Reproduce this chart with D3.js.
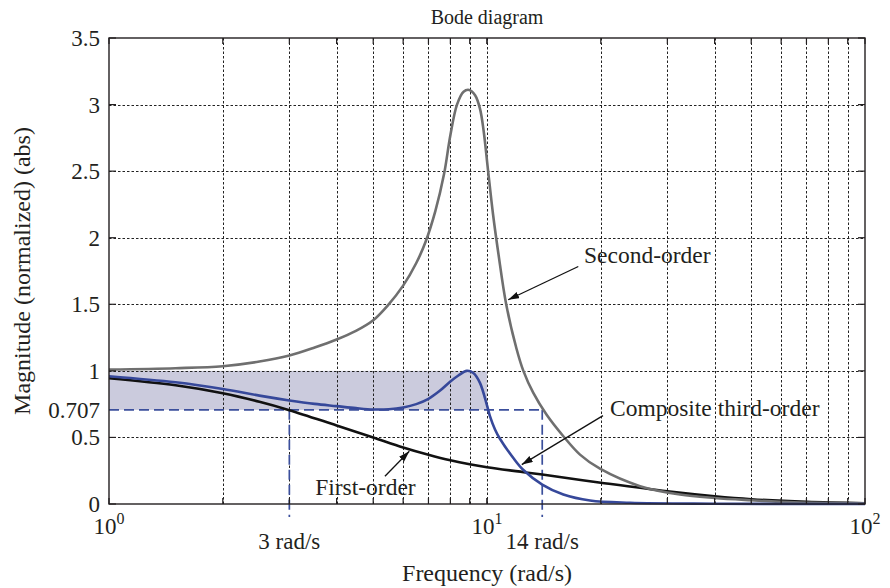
<!DOCTYPE html>
<html>
<head>
<meta charset="utf-8">
<script src="https://cdn.jsdelivr.net/npm/d3@7"></script>
<style>
  body { margin: 0; background: #fff; }
  text { font-family: "Liberation Serif", "Times New Roman", serif; fill: #231f20; }
</style>
</head>
<body>
<svg id="chart" width="890" height="588"></svg>
<script>
// First-order response |G1(jw)|
const firstOrderFreq = [1, 1.5, 2, 2.5, 3, 4, 5, 6, 7, 8, 9, 10, 12.5, 14, 20, 30, 40, 50, 70, 100];
const firstOrderMag  = [0.945, 0.892, 0.832, 0.768, 0.705, 0.59, 0.5, 0.425, 0.37, 0.328, 0.298, 0.276, 0.239, 0.221, 0.16, 0.095, 0.058, 0.036, 0.016, 0.006];

// Lightly damped second-order response |G2(jw)|
const secondOrderFreq = [1, 1.5, 2, 2.5, 3, 3.5, 4, 4.5, 5, 5.46, 6, 6.5, 6.88, 7.3, 7.7, 8.0, 8.33, 8.67, 8.97, 9.3, 9.58, 9.8, 10.06, 10.37, 10.72, 11.24, 11.96, 12.48, 13.26, 14.38, 15.92, 17.62, 19.9, 25.4, 32.4, 40, 50, 65, 100];
const secondOrderMag  = [1.01, 1.02, 1.035, 1.07, 1.115, 1.175, 1.235, 1.3, 1.38, 1.49, 1.64, 1.81, 1.97, 2.2, 2.48, 2.77, 3.0, 3.097, 3.11, 3.07, 2.97, 2.8, 2.51, 2.18, 1.88, 1.5, 1.17, 1.0, 0.834, 0.67, 0.509, 0.371, 0.265, 0.134, 0.071, 0.045, 0.028, 0.012, 0.005];

// Composite third-order response |G1 G2|
const compositeFreq = [1, 1.5, 2, 2.5, 3, 3.5, 4, 4.5, 5, 5.5, 6, 6.5, 7, 7.5, 8, 8.4, 8.84, 9.2, 9.58, 10, 10.18, 10.5, 10.82, 11.74, 12.48, 14, 15.92, 18.73, 23.9, 40, 100];
const compositeMag  = [0.96, 0.914, 0.864, 0.814, 0.778, 0.752, 0.735, 0.72, 0.71, 0.712, 0.725, 0.75, 0.79, 0.85, 0.92, 0.965, 1.0, 0.984, 0.91, 0.74, 0.66, 0.56, 0.49, 0.345, 0.255, 0.146, 0.071, 0.026, 0.009, 0.002, 0];

// Axis ticks
const xTickValues = [1, 10, 100];
const xTickExponents = ["0", "1", "2"];
const yTickValues = [0, 0.5, 1, 1.5, 2, 2.5, 3, 3.5];
const yTickLabels = ["0", "0.5", "1", "1.5", "2", "2.5", "3", "3.5"];
const yGridValues = [0.5, 1, 1.5, 2, 2.5, 3];

// Half-power level, bandwidth markers and shaded passband
const halfPowerLevel = 0.707;
const halfPowerLabel = "0.707";
const bandwidthFreqs = [3, 14];
const bandwidthLabels = ["3 rad/s", "14 rad/s"];
const passbandFreqRange = [1, 10];
const passbandMagRange = [0.707, 1];

// Curve call-outs: label text, label anchor [w, |G|], arrow tail and tip [w, |G|]
const calloutText = ["Second-order", "Composite third-order", "First-order"];
const calloutLabelAt = [[18.06, 1.81], [21.15, 0.664], [3.51, 0.071]];
const calloutTail = [[17.44, 1.784], [20.27, 0.664], [5.37, 0.208]];
const calloutTip = [[11.38, 1.534], [12.36, 0.296], [6.23, 0.396]];

const svg = d3.select("#chart");
const plot = { left: 109, right: 865, top: 38, bottom: 504 };

const x = d3.scaleLog().domain([1, 100]).range([plot.left, plot.right]);
const y = d3.scaleLinear().domain([0, 3.5]).range([plot.bottom, plot.top]);

const zip = (a, b) => a.map((v, i) => [v, b[i]]);
const line = d3.line().x(d => x(d[0])).y(d => y(d[1])).curve(d3.curveCatmullRom.alpha(0.5));

// Shaded passband
svg.append("rect")
  .attr("x", x(passbandFreqRange[0]))
  .attr("y", y(passbandMagRange[1]))
  .attr("width", x(passbandFreqRange[1]) - x(passbandFreqRange[0]))
  .attr("height", y(passbandMagRange[0]) - y(passbandMagRange[1]))
  .attr("fill", "#cbcbdd");

// Dotted grid
const xGridValues = [];
[1, 10].forEach(dec => { for (let k = 2; k <= 9; k++) xGridValues.push(k * dec); });
xGridValues.push(10);
const grid = svg.append("g").attr("stroke", "#222").attr("stroke-width", 1).attr("stroke-dasharray", "2.5,2");
grid.selectAll("line.v").data(xGridValues).join("line").attr("class", "v")
  .attr("x1", d => Math.round(x(d)) + 0.5).attr("x2", d => Math.round(x(d)) + 0.5)
  .attr("y1", plot.top).attr("y2", plot.bottom);
grid.selectAll("line.h").data(yGridValues).join("line").attr("class", "h")
  .attr("x1", plot.left).attr("x2", plot.right)
  .attr("y1", d => Math.round(y(d)) + 0.5).attr("y2", d => Math.round(y(d)) + 0.5);

// Half-power and bandwidth dashed lines
const dashColor = "#3b4f9c";
const dash = svg.append("g").attr("stroke", dashColor).attr("stroke-width", 1.7).attr("stroke-dasharray", "10,5").attr("fill", "none");
dash.append("line")
  .attr("x1", plot.left).attr("x2", x(d3.max(bandwidthFreqs)))
  .attr("y1", y(halfPowerLevel)).attr("y2", y(halfPowerLevel));
dash.selectAll("line.bw").data(bandwidthFreqs).join("line").attr("class", "bw")
  .attr("x1", d => x(d)).attr("x2", d => x(d))
  .attr("y1", y(halfPowerLevel)).attr("y2", plot.bottom + 13);

// Response curves
svg.append("path").datum(zip(firstOrderFreq, firstOrderMag))
  .attr("d", line).attr("fill", "none").attr("stroke", "#111").attr("stroke-width", 2.6);
svg.append("path").datum(zip(secondOrderFreq, secondOrderMag))
  .attr("d", line).attr("fill", "none").attr("stroke", "#6f6f6f").attr("stroke-width", 2.6);
svg.append("path").datum(zip(compositeFreq, compositeMag))
  .attr("d", line).attr("fill", "none").attr("stroke", "#36489a").attr("stroke-width", 2.6);

// Axes box and inward ticks
const axisColor = "#231f20";
svg.append("rect")
  .attr("x", plot.left).attr("y", plot.top)
  .attr("width", plot.right - plot.left).attr("height", plot.bottom - plot.top)
  .attr("fill", "none").attr("stroke", axisColor).attr("stroke-width", 1.4);
const ticks = svg.append("g").attr("stroke", axisColor).attr("stroke-width", 1.2);
const allXTicks = xGridValues.concat(xTickValues);
ticks.selectAll("line.xb").data(allXTicks).join("line").attr("class", "xb")
  .attr("x1", d => x(d)).attr("x2", d => x(d)).attr("y1", plot.bottom).attr("y2", plot.bottom - 6);
ticks.selectAll("line.xt").data(allXTicks).join("line").attr("class", "xt")
  .attr("x1", d => x(d)).attr("x2", d => x(d)).attr("y1", plot.top).attr("y2", plot.top + 6);
ticks.selectAll("line.yl").data(yTickValues).join("line").attr("class", "yl")
  .attr("x1", plot.left).attr("x2", plot.left + 7).attr("y1", d => y(d)).attr("y2", d => y(d));
ticks.selectAll("line.yr").data(yTickValues).join("line").attr("class", "yr")
  .attr("x1", plot.right).attr("x2", plot.right - 7).attr("y1", d => y(d)).attr("y2", d => y(d));

// Y tick labels
const fs = 23;
svg.append("g").selectAll("text").data(yTickValues).join("text")
  .attr("x", plot.left - 9).attr("y", d => y(d)).attr("dy", "0.35em")
  .attr("text-anchor", "end").attr("font-size", fs)
  .text((d, i) => yTickLabels[i]);
svg.append("text")
  .attr("x", plot.left - 9).attr("y", y(halfPowerLevel)).attr("dy", "0.35em")
  .attr("text-anchor", "end").attr("font-size", fs).text(halfPowerLabel);

// X tick labels (powers of ten)
const xl = svg.append("g").selectAll("text").data(xTickValues).join("text")
  .attr("x", d => x(d)).attr("y", plot.bottom + 30)
  .attr("text-anchor", "middle").attr("font-size", fs);
xl.append("tspan").text("10");
xl.append("tspan").attr("font-size", 16).attr("dy", -10).text((d, i) => xTickExponents[i]);

// Bandwidth labels
svg.append("g").selectAll("text").data(bandwidthFreqs).join("text")
  .attr("x", d => x(d)).attr("y", plot.bottom + 45)
  .attr("text-anchor", "middle").attr("font-size", fs)
  .text((d, i) => bandwidthLabels[i]);

// Title and axis titles
svg.append("text").attr("x", (plot.left + plot.right) / 2).attr("y", 24)
  .attr("text-anchor", "middle").attr("font-size", 20).text("Bode diagram");
svg.append("text").attr("x", (plot.left + plot.right) / 2).attr("y", 581)
  .attr("text-anchor", "middle").attr("font-size", 24).text("Frequency (rad/s)");
svg.append("text")
  .attr("transform", `translate(30,${(plot.top + plot.bottom) / 2}) rotate(-90)`)
  .attr("text-anchor", "middle").attr("font-size", 24).text("Magnitude (normalized) (abs)");

// Call-outs with arrows
const defs = svg.append("defs");
defs.append("marker").attr("id", "arrowhead")
  .attr("markerUnits", "userSpaceOnUse").attr("markerWidth", 12).attr("markerHeight", 8)
  .attr("refX", 11).attr("refY", 3.5).attr("orient", "auto")
  .append("path").attr("d", "M0,0 L11,3.5 L0,7 Z").attr("fill", "#111");

calloutText.forEach((t, i) => {
  svg.append("line")
    .attr("x1", x(calloutTail[i][0])).attr("y1", y(calloutTail[i][1]))
    .attr("x2", x(calloutTip[i][0])).attr("y2", y(calloutTip[i][1]))
    .attr("stroke", "#111").attr("stroke-width", 1.3).attr("marker-end", "url(#arrowhead)");
  svg.append("text")
    .attr("x", x(calloutLabelAt[i][0])).attr("y", y(calloutLabelAt[i][1]))
    .attr("font-size", 23.5).text(t);
});
</script>
</body>
</html>
